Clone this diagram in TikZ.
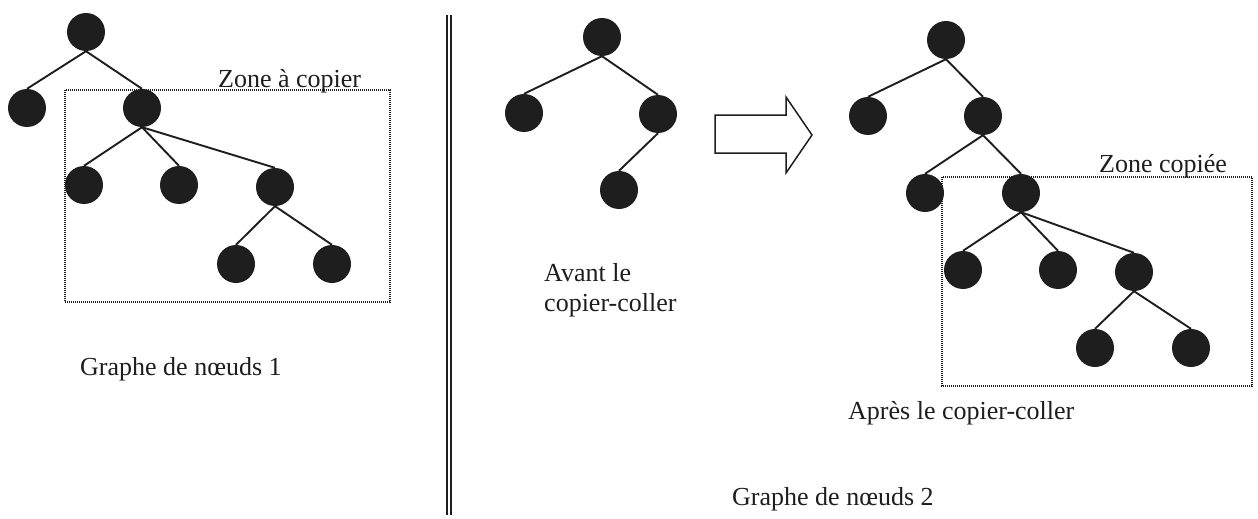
\documentclass[tikz,border=0pt]{standalone}
\usepackage{fontspec}
\setmainfont{Liberation Serif}
\definecolor{ink}{RGB}{30,30,30}
\begin{document}
\begin{tikzpicture}[x=1pt,y=-1pt,
  dot/.style={circle,fill=ink,draw=none,minimum size=38pt,inner sep=0pt},
  edge/.style={draw=ink,line width=1.9pt},
  zone/.style={draw=ink,line width=1.5pt,dash pattern=on 1pt off 1pt},
  lbl/.style={anchor=base west,inner sep=0pt,text=ink,font=\fontsize{26}{30}\selectfont}]
\useasboundingbox[fill=white] (0,0) rectangle (1258,519);
% left tree
\node[dot] (a0) at (86,32) {};
\node[dot] (a1) at (27,108) {};
\node[dot] (a2) at (142,108) {};
\node[dot] (a3) at (84,185) {};
\node[dot] (a4) at (179,185) {};
\node[dot] (a5) at (275,187) {};
\node[dot] (a6) at (236,264) {};
\node[dot] (a7) at (332,264) {};
\foreach \p/\c in {a0/a1,a0/a2,a2/a3,a2/a4,a2/a5,a5/a6,a5/a7}
  \draw[edge] (\p.south) -- (\c.north);
\draw[zone] (65,90) rectangle (390,302);
\node[lbl] (t1) at (218,87) {Zone à copier};
\node[lbl] (t2) at (80,375) {Graphe de nœuds 1};
% separator
\draw[draw=ink,line width=1.6pt] (447,15) -- (447,515);
\draw[draw=ink,line width=1.6pt] (451,15) -- (451,515);
% middle tree
\node[dot] (b0) at (602,37) {};
\node[dot] (b1) at (524,113) {};
\node[dot] (b2) at (658,114) {};
\node[dot] (b3) at (619,190) {};
\foreach \p/\c in {b0/b1,b0/b2,b2/b3}
  \draw[edge] (\p.south) -- (\c.north);
\node[lbl] (t3) at (544,281) {Avant le};
\node[lbl] (t4) at (544,311) {copier-coller};
% arrow
\draw[draw=ink,line width=1.5pt,line join=miter] (715,115) -- (786,115) -- (786,97) -- (812,135) -- (786,173) -- (786,153) -- (715,153) -- cycle;
% right tree
\node[dot] (c0) at (946,40) {};
\node[dot] (c1) at (868,116) {};
\node[dot] (c2) at (983,116) {};
\node[dot] (c3) at (925,193) {};
\node[dot] (c4) at (1021,193) {};
\node[dot] (c5) at (963,270) {};
\node[dot] (c6) at (1058,270) {};
\node[dot] (c7) at (1134,272) {};
\node[dot] (c8) at (1095,348) {};
\node[dot] (c9) at (1191,348) {};
\foreach \p/\c in {c0/c1,c0/c2,c2/c3,c2/c4,c4/c5,c4/c6,c4/c7,c7/c8,c7/c9}
  \draw[edge] (\p.south) -- (\c.north);
\draw[zone] (942,177) rectangle (1252,386);
\node[lbl] (t5) at (1099,172) {Zone copiée};
\node[lbl] (t6) at (848,419) {Après le copier-coller};
\node[lbl] (t7) at (732,505) {Graphe de nœuds 2};
\end{tikzpicture}
\end{document}
